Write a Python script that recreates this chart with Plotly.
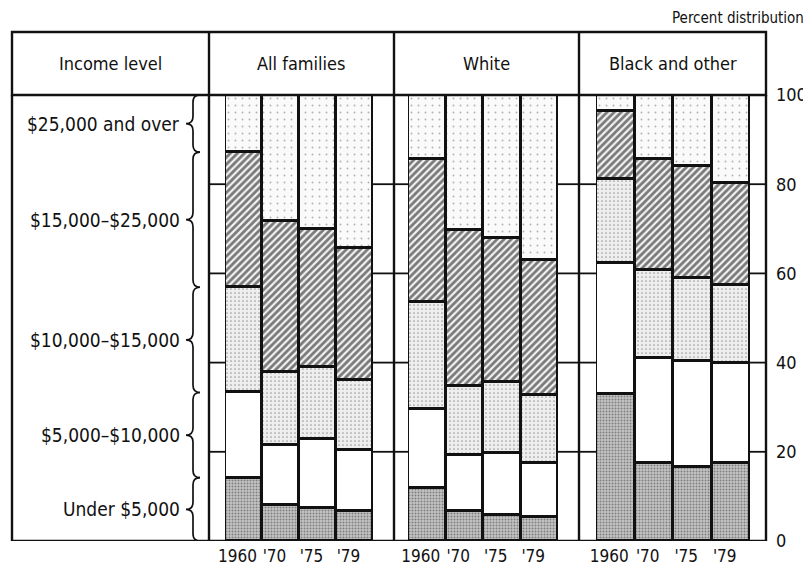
import plotly.graph_objects as go

# ---------------- data ----------------
groups = ["All families", "White", "Black and other"]
years = ["1960", "'70", "'75", "'79"]
income_levels = ["Under $5,000", "$5,000\u2013$10,000", "$10,000\u2013$15,000",
                 "$15,000\u2013$25,000", "$25,000 and over"]

# percent share of each income level, per year (order of `years`)
all_families = {
    "Under $5,000":        [14.2, 8.1, 7.4, 6.8],
    "$5,000\u2013$10,000":  [19.1, 13.5, 15.4, 13.7],
    "$10,000\u2013$15,000": [23.6, 16.4, 16.3, 15.5],
    "$15,000\u2013$25,000": [30.3, 33.7, 30.9, 29.7],
    "$25,000 and over":    [12.8, 28.3, 30.0, 34.3],
}
white = {
    "Under $5,000":        [11.8, 6.7, 5.9, 5.4],
    "$5,000\u2013$10,000":  [17.7, 12.6, 13.9, 12.0],
    "$10,000\u2013$15,000": [24.1, 15.5, 15.8, 15.3],
    "$15,000\u2013$25,000": [32.1, 34.9, 32.3, 30.2],
    "$25,000 and over":    [14.3, 30.3, 32.1, 37.1],
}
black_other = {
    "Under $5,000":        [33.0, 17.5, 16.6, 17.6],
    "$5,000\u2013$10,000":  [29.3, 23.5, 23.8, 22.4],
    "$10,000\u2013$15,000": [18.8, 19.7, 18.5, 17.5],
    "$15,000\u2013$25,000": [15.3, 24.9, 25.1, 22.8],
    "$25,000 and over":    [3.6, 14.4, 16.0, 19.7],
}
group_data = [all_families, white, black_other]
y_ticks = [0, 20, 40, 60, 80, 100]
grid_levels = [20, 40, 60, 80]

# ---------------- styling ----------------
OFF = 8                      # page body margin of the browser
W, H = 811 - OFF, 571 - OFF
FONT = "Liberation Sans Narrow, DejaVu Sans Condensed, Arial Narrow, Liberation Sans, sans-serif"
LINE = "#111111"
patterns = {
    "Under $5,000":        dict(shape=".", fgcolor="#3a3a3a", bgcolor="#c4c4c4", size=3, solidity=0.35),
    "$5,000\u2013$10,000":  dict(shape="", bgcolor="white", fgcolor="white"),
    "$10,000\u2013$15,000": dict(shape=".", fgcolor="#4a4a4a", bgcolor="#eeeeee", size=4, solidity=0.15),
    "$15,000\u2013$25,000": dict(shape="/", fgcolor="#000000", bgcolor="#f2f2f2", size=5, solidity=0.55),
    "$25,000 and over":    dict(shape=".", fgcolor="#6a6a6a", bgcolor="#fafafa", size=7, solidity=0.06),
}

# convert reference-page pixels to paper fractions
px = lambda v: (v - OFF) / W
py = lambda v: 1 - (v - OFF) / H

y0_px, y100_px = 541, 95           # pixel rows of 0 % and 100 %
header_top_px = 32
left_px = 12
panel_edges_px = [209, 394, 579, 766]
bar_spans_px = [(225, 373), (408, 558), (596, 750)]

fig = go.Figure()
xaxes = ["x", "x2", "x3"]
for g, (name, data) in enumerate(zip(groups, group_data)):
    for lvl in income_levels:
        fig.add_trace(go.Bar(
            x=years, y=data[lvl], name=lvl, xaxis=xaxes[g], yaxis="y",
            marker=dict(color=patterns[lvl]["bgcolor"], pattern=patterns[lvl],
                        line=dict(color=LINE, width=2.8)),
            showlegend=False, hoverinfo="skip"))

layout = dict(
    width=W, height=H, autosize=False,
    margin=dict(l=0, r=0, t=0, b=0, pad=0, autoexpand=False),
    paper_bgcolor="white", plot_bgcolor="rgba(0,0,0,0)",
    barmode="stack", bargap=0,
    font=dict(family=FONT, color="#111111", size=16),
    yaxis=dict(range=[0, 100], domain=[py(y0_px), py(y100_px)], tickvals=y_ticks,
               anchor="free", position=px(panel_edges_px[-1]), side="right",
               showgrid=False, zeroline=False, showline=False, ticks="",
               automargin=False, ticklabelstandoff=9, tickfont=dict(size=18)),
)
for g, ax in enumerate(xaxes):
    key = "xaxis" if ax == "x" else "xaxis" + ax[1:]
    a, b = bar_spans_px[g]
    layout[key] = dict(domain=[px(a), px(b)], anchor="y", type="category",
                       categoryorder="array", categoryarray=years,
                       range=[-0.5, 3.5], showgrid=False, zeroline=False,
                       showline=False, ticks="", tickfont=dict(size=17),
                       automargin=False, ticklabelshift=-6, ticklabelstandoff=3)
fig.update_layout(**layout)

shapes = []
lw = dict(color=LINE, width=2.4)
# header box and dividers
shapes.append(dict(type="rect", xref="paper", yref="paper",
                   x0=px(left_px), x1=px(panel_edges_px[-1]),
                   y0=py(y100_px), y1=py(header_top_px), line=lw))
for e in panel_edges_px[:-1]:
    shapes.append(dict(type="line", xref="paper", yref="paper", x0=px(e), x1=px(e),
                       y0=py(y100_px), y1=py(header_top_px), line=lw))
# label column box (left + bottom)
shapes.append(dict(type="line", xref="paper", yref="paper", x0=px(left_px), x1=px(left_px),
                   y0=py(y0_px), y1=py(y100_px), line=lw))
shapes.append(dict(type="line", xref="paper", yref="y", x0=px(left_px), x1=px(panel_edges_px[-1]),
                   y0=0, y1=0, line=lw))
# panel vertical lines
for e in panel_edges_px:
    shapes.append(dict(type="line", xref="paper", yref="y", x0=px(e), x1=px(e),
                       y0=0, y1=100, line=lw))
# spacer columns with grid ticks
for g in range(3):
    spans = [(panel_edges_px[g], bar_spans_px[g][0]), (bar_spans_px[g][1], panel_edges_px[g + 1])]
    for a, b in spans:
        for lv in grid_levels:
            shapes.append(dict(type="line", xref="paper", yref="y", x0=px(a), x1=px(b),
                               y0=lv, y1=lv, line=dict(color=LINE, width=1.8)))

# braces following the 1960 "All families" distribution
bounds = [0]
for lvl in income_levels:
    bounds.append(bounds[-1] + all_families[lvl][0])
bounds[-1] = 100
xs, xt, xc = px(193), px(186), px(200)
d = 1.6
for i in range(len(income_levels)):
    lo, hi = bounds[i], bounds[i + 1]
    m = (lo + hi) / 2
    path = (f"M {xc},{hi} Q {xs},{hi} {xs},{hi - d} L {xs},{m + d} "
            f"Q {xs},{m} {xt},{m} Q {xs},{m} {xs},{m - d} "
            f"L {xs},{lo + d} Q {xs},{lo} {xc},{lo}")
    shapes.append(dict(type="path", xref="paper", yref="y", path=path,
                       line=dict(color=LINE, width=1.7)))
fig.update_layout(shapes=shapes)

ann = []
hy = py((header_top_px + y100_px) / 2)
header_texts = ["Income level"] + groups
for i, t in enumerate(header_texts):
    a = left_px if i == 0 else panel_edges_px[i - 1]
    b = panel_edges_px[0] if i == 0 else panel_edges_px[i]
    ann.append(dict(text=t, xref="paper", yref="paper", x=px((a + b) / 2), y=hy,
                    xanchor="center", yanchor="middle", showarrow=False, font=dict(size=18)))
for i, lvl in enumerate(income_levels):
    m = (bounds[i] + bounds[i + 1]) / 2
    ann.append(dict(text=lvl, xref="paper", yref="y", x=px(182), y=m,
                    xanchor="right", yanchor="middle", showarrow=False, font=dict(size=19)))
ann.append(dict(text="Percent distribution", xref="paper", yref="paper",
                x=px(806), y=py(18), xanchor="right", yanchor="middle",
                showarrow=False, font=dict(size=15)))
fig.update_layout(annotations=ann)

fig.write_html("out.html")
